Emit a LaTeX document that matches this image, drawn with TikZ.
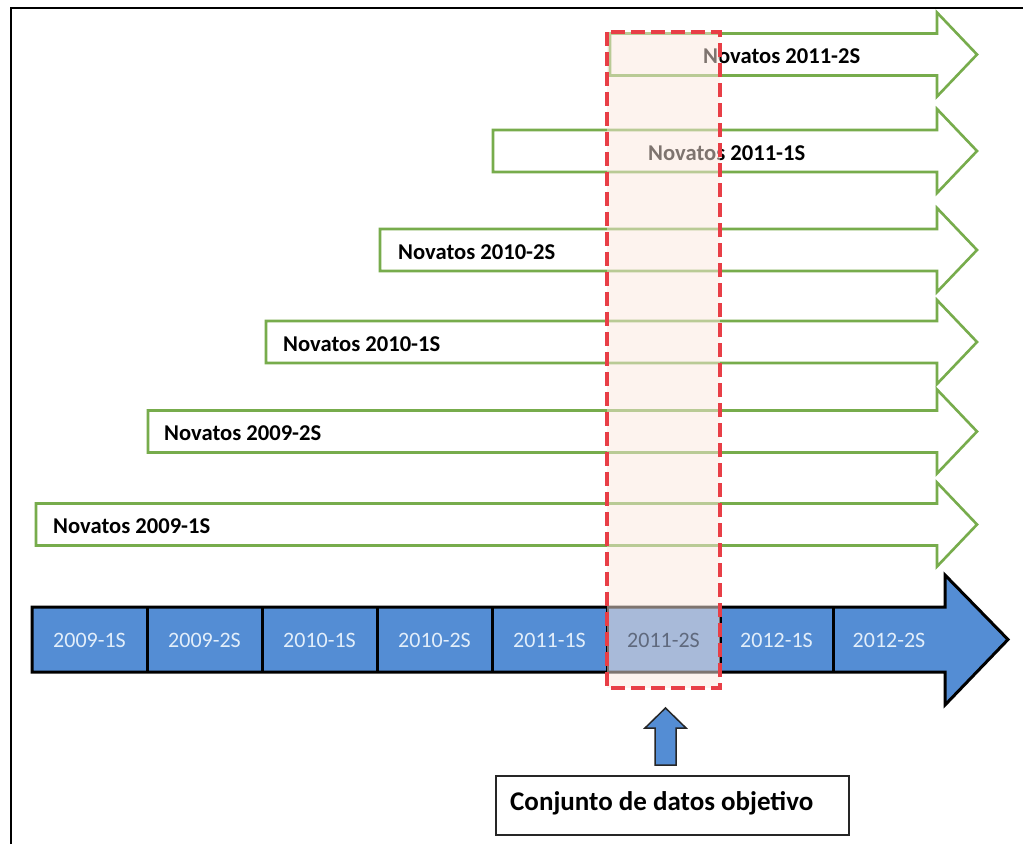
\documentclass[tikz,border=0pt]{standalone}
\usepackage{fontspec}
\setmainfont{Carlito}
\definecolor{gline}{RGB}{119,172,76}
\definecolor{tblue}{RGB}{84,141,212}
\definecolor{rdash}{RGB}{232,62,70}
\definecolor{peach}{RGB}{252,232,222}
\definecolor{celltext}{RGB}{226,238,250}
\definecolor{hltext}{RGB}{95,105,125}
\begin{document}
\begin{tikzpicture}[x=1pt,y=-1pt,
  garrow/.style={draw=gline,line width=2.6pt,fill=white,line join=miter},
  nlabel/.style={anchor=west,font=\fontsize{22.6}{24}\selectfont\bfseries,text=black,inner sep=0pt},
  cell/.style={font=\fontsize{22}{24}\selectfont,text=celltext,inner sep=0pt},
  divider/.style={line width=3pt,draw=black},
]
\useasboundingbox (0,0) rectangle (1023,844);
\fill[white] (0,0) rectangle (1023,844);
\draw[line width=2pt] (11,844) -- (11,8) -- (1023,8);

% green arrows
\foreach \l/\c/\tx/\t [count=\i] in {610/54.5/703/2011-2S, 493/151/648/2011-1S, 380/250/398/2010-2S, 266/342/283/2010-1S, 148/431.5/164/2009-2S, 36/524.5/53/2009-1S}{
  \draw[garrow] (\l,\c-21) -- (937,\c-21) -- (937,\c-42) -- (977,\c) -- (937,\c+42) -- (937,\c+21) -- (\l,\c+21) -- cycle;
  \node[nlabel] (nov\i) at (\tx,\c+2) {Novatos \t};
}

% timeline
\draw[fill=tblue,line width=3pt,draw=black,line join=miter] (32,607) -- (945,607) -- (945,575) -- (1008,639.5) -- (945,705) -- (945,672) -- (32,672) -- cycle;
\foreach \x in {147,262,377,492,607,720,833} \draw[divider] (\x,607) -- (\x,672);
\foreach \cx/\t [count=\i] in {89.5/2009-1S, 204.5/2009-2S, 319.5/2010-1S, 434.5/2010-2S, 549.5/2011-1S, 776.5/2012-1S, 889/2012-2S}{
  \node[cell] (cell\i) at (\cx,640) {\t};
}

% highlight box
\draw[draw=rdash,line width=3.5pt,dash pattern=on 14pt off 6pt,fill=peach,fill opacity=0.5] (607,32) rectangle (720,688);
\node[cell,text=hltext] (cellhl) at (663.5,640) {2011-2S};

% small up arrow and label
\node[draw=black!85,line width=1.5pt,minimum width=353pt,minimum height=59pt,anchor=north west,inner sep=0pt] (tbox) at (495,775) {};
\node[anchor=west,inner sep=0pt,font=\fontsize{27}{29}\selectfont\bfseries] (tlabel) at ([xshift=15pt,yshift=2pt]tbox.west) {Conjunto de datos objetivo};
\coordinate (ub) at (665.5,765);
\draw[fill=tblue,line width=1.5pt,draw=black!85,line join=miter] ([xshift=-10.5pt]ub) -- (655,728) -- (645,728) -- (665.5,708) -- (686,728) -- (676,728) -- ([xshift=10.5pt]ub) -- cycle;
\end{tikzpicture}
\end{document}
